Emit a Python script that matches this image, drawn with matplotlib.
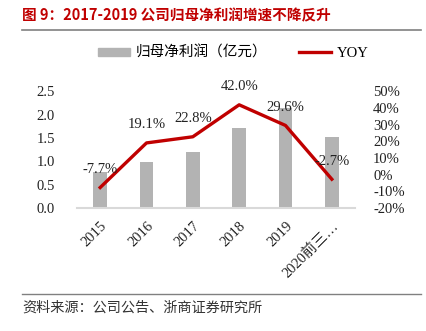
import numpy as np
import matplotlib.pyplot as plt
from matplotlib.lines import Line2D
from matplotlib.patches import Patch

# data
years = ['2015', '2016', '2017', '2018', '2019', '2020前三…']
profit = [0.78, 0.99, 1.21, 1.71, 2.14, 1.53]      # 归母净利润 (亿元)
yoy = [-7.7, 19.1, 22.8, 42.0, 29.6, -2.7]          # YOY (%)
yoy_labels = ['-7.7%', '19.1%', '22.8%', '42.0%', '29.6%', '-2.7%']

serif = ['Liberation Serif', 'Noto Sans CJK SC']
cjk = ['Noto Sans CJK SC', 'DejaVu Sans']
red = '#C00000'
grey = '#B3B3B3'
fs = 10.5

fig = plt.figure(figsize=(4.26, 3.31), dpi=100)

# title + rules
fig.text(22/426, 1-15/331, '图 9：2017-2019 公司归母净利润增速不降反升', color=red,
         fontsize=10.5, fontweight='bold', family=cjk, ha='left', va='center')
fig.add_artist(Line2D([22/426, 421/426], [1-30/331, 1-30/331], color='#808080', lw=1.2))
fig.add_artist(Line2D([22/426, 421/426], [1-294/331, 1-294/331], color='#808080', lw=1.0))
fig.text(22/426, 1-308/331, '资料来源：公司公告、浙商证券研究所', color='#333333',
         fontsize=10.2, family=cjk, ha='left', va='center')

ax = fig.add_axes([77/426, 1-208/331, 278/426, 116.5/331])
x = np.arange(len(years))
ax.bar(x, profit, width=0.3, color=grey, zorder=1)
ax.set_xlim(-0.5, len(years)-0.5)
ax.set_ylim(0, 2.5)
ax.set_yticks(np.arange(0, 2.51, 0.5))
ax.set_yticklabels([f'{v:.1f}' for v in np.arange(0, 2.51, 0.5)], family=serif, fontsize=fs)
ax.set_xticks(x)
ax.set_xticklabels(years, rotation=45, ha='right', rotation_mode='anchor',
                   family=serif, fontsize=fs)
ax.tick_params(axis='both', length=0, colors='#222222')
ax.tick_params(axis='y', pad=16)
ax.tick_params(axis='x', pad=8)
for s in ['top', 'right', 'left']:
    ax.spines[s].set_visible(False)
ax.spines['bottom'].set_color('#D9D9D9')
ax.spines['bottom'].set_linewidth(1.5)

ax2 = ax.twinx()
ax2.plot(x, yoy, color=red, lw=2.4, zorder=3)
ax2.set_ylim(-20, 50)
ticks = np.arange(-20, 51, 10)
ax2.set_yticks(ticks)
ax2.set_yticklabels([f'{t}%' for t in ticks], family=serif, fontsize=fs)
ax2.tick_params(axis='y', length=0, pad=13, colors='#222222')
for s in ax2.spines.values():
    s.set_visible(False)
for xi, v, lab in zip(x, yoy, yoy_labels):
    ax2.annotate(lab, (xi, v), xytext=(0, 13), textcoords='offset points',
                 ha='center', va='center', family=serif, fontsize=fs, color='#222222')

handles = [Patch(color=grey), Line2D([0], [0], color=red, lw=2.4)]
fig.legend(handles, ['归母净利润（亿元）', 'YOY'], loc='center', bbox_to_anchor=(0.548, 1-53/331),
           ncol=2, frameon=False, prop={'family': serif, 'size': fs},
           handlelength=2.2, handleheight=0.5, handletextpad=0.4, columnspacing=2.2)

fig.savefig('out.png', dpi=100)
